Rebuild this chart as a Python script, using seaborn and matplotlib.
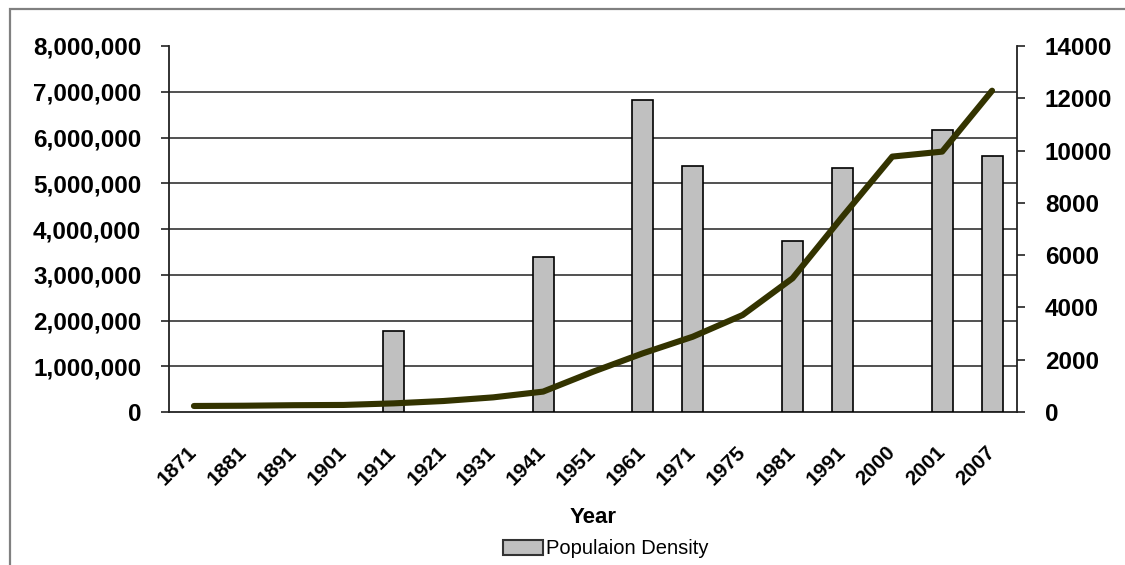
import numpy as np
import pandas as pd
import matplotlib
matplotlib.use("Agg")
import matplotlib.pyplot as plt
import matplotlib.ticker as mticker
from matplotlib.patches import Rectangle, Patch
import seaborn as sns

# data
years = ["1871", "1881", "1891", "1901", "1911", "1921", "1931", "1941", "1951",
         "1961", "1971", "1975", "1981", "1991", "2000", "2001", "2007"]
population = [np.nan, np.nan, np.nan, np.nan, 1770000, np.nan, np.nan, 3380000, np.nan,
              6820000, 5380000, np.nan, 3740000, 5330000, np.nan, 6160000, 5600000]
density = [230, 240, 260, 270, 330, 420, 560, 780, 1540,
           2245, 2880, 3710, 5115, 7470, 9770, 9960, 12290]

df = pd.DataFrame({"Year": years, "Population": population, "Density": density})

sns.set_style("white")
plt.rcParams["font.family"] = ["Liberation Sans", "DejaVu Sans"]
plt.rcParams["text.color"] = "black"
plt.rcParams["xtick.color"] = "black"
plt.rcParams["ytick.color"] = "black"

fig = plt.figure(figsize=(11.25, 5.65), dpi=100)
ax = fig.add_axes([169 / 1125, 1 - 412 / 565, (1017 - 169) / 1125, 366 / 565])

sns.barplot(data=df, x="Year", y="Population", order=years, color="#C0C0C0",
            edgecolor="black", linewidth=1.2, width=0.42, saturation=1, ax=ax, zorder=3)

ax2 = ax.twinx()
sns.lineplot(data=df, x="Year", y="Density", color="#333300", linewidth=4.4,
             sort=False, ax=ax2)

n = len(years)
ax.set_xlim(-0.5, n - 0.5)
ax.set_ylim(0, 8000000)
ax2.set_ylim(0, 14000)

ax.yaxis.set_major_locator(mticker.MultipleLocator(1000000))
ax.yaxis.set_major_formatter(mticker.FuncFormatter(lambda v, p: f"{int(v):,}"))
ax2.yaxis.set_major_locator(mticker.MultipleLocator(2000))

# category labels at centres, tick marks between categories
ax.set_xticks(range(n))
ax.set_xticklabels(years)
ax.set_xticks(np.arange(-0.5, n, 1.0), minor=True)
ax.tick_params(axis="x", which="major", length=0, pad=27, labelsize=15, rotation=45,
               labelcolor="black")
ax.tick_params(axis="x", which="minor", length=6, width=1.2, color="#222222", direction="out")
for lab in ax.get_xticklabels():
    lab.set_fontweight("bold")
    lab.set_ha("right")
    lab.set_va("center")
    lab.set_rotation_mode("anchor")

ax.tick_params(axis="y", length=6, width=1.2, color="#222222", direction="out",
               pad=14, labelsize=17.5, left=True, labelcolor="black")
ax2.tick_params(axis="y", length=6, width=1.2, color="#222222", direction="out",
                pad=14, labelsize=17.5, right=True, labelcolor="black")
for lab in ax.get_yticklabels() + ax2.get_yticklabels():
    lab.set_fontweight("bold")

# horizontal gridlines
for v in range(1000000, 8000000, 1000000):
    ax.axhline(v, color="#333333", linewidth=1.2, zorder=1)

for side in ["top", "right"]:
    ax.spines[side].set_visible(False)
for side in ["top", "left", "bottom"]:
    ax2.spines[side].set_visible(False)
for sp in [ax.spines["left"], ax.spines["bottom"], ax2.spines["right"]]:
    sp.set_color("#222222")
    sp.set_linewidth(1.3)

ax.set_ylabel("")
ax2.set_ylabel("")
ax.set_xlabel("Year", fontsize=16, fontweight="bold", color="black")
ax.xaxis.label.set_va("center")
ax.xaxis.set_label_coords(0.5, -0.287)

leg = fig.legend(handles=[Patch(facecolor="#C0C0C0", edgecolor="#333333", linewidth=1.5)],
                 labels=["Populaion Density"], loc="center",
                 bbox_to_anchor=(606 / 1125, 1 - 549 / 565), frameon=False,
                 fontsize=14.5, handlelength=2.0, handleheight=0.7, handletextpad=0.15)

# chart area border (only left and top edges visible)
fig.patches.append(Rectangle((10 / 1125, -0.2), 2, 1.2 - 9 / 565,
                             transform=fig.transFigure, fill=False,
                             edgecolor="#808080", linewidth=1.6))

fig.savefig("out.png", dpi=100)
